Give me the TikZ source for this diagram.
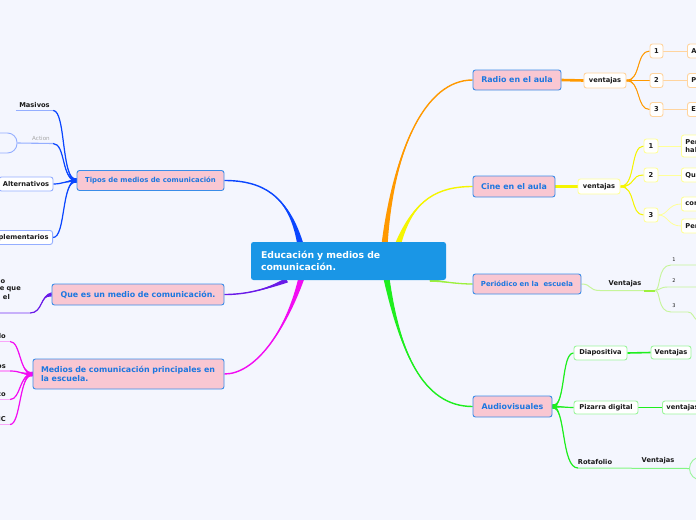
\documentclass[tikz,border=0pt]{standalone}
\usepackage{fontspec}
\setmainfont{DejaVu Sans}
\usetikzlibrary{calc,backgrounds}
\definecolor{bg}{HTML}{F4F6FE}
\definecolor{ctrblue}{HTML}{1A96E6}
\definecolor{pinkf}{HTML}{F9C7D2}
\definecolor{boxblue}{HTML}{3A8CE8}
\definecolor{tblue}{HTML}{1C77E0}
\definecolor{txt}{HTML}{1A1A1A}
\definecolor{brOr}{HTML}{FF9900}
\definecolor{orL}{HTML}{FFD49E}
\definecolor{brYe}{HTML}{F5F500}
\definecolor{yeL}{HTML}{FFFF99}
\definecolor{brLi}{HTML}{9CF03C}
\definecolor{liL}{HTML}{C6F59A}
\definecolor{brGr}{HTML}{1EEE1E}
\definecolor{grL}{HTML}{9CF59C}
\definecolor{brBl}{HTML}{0A46FF}
\definecolor{blL}{HTML}{94AEFF}
\definecolor{brPu}{HTML}{6A1AE8}
\definecolor{puL}{HTML}{C7B0FA}
\definecolor{brMa}{HTML}{F20CF2}
\definecolor{maL}{HTML}{F9A6F9}
% #1 colour, #2 start, #3 half width offset, #4 #5 controls, #6 end, #7 end width
\newcommand{\taperbranch}[7]{%
  \fill[#1] ($(#2)+#3$) .. controls #4 and #5 .. (#6) .. controls #5 and #4 .. ($(#2)-#3$) -- cycle;
  \draw[#1,line width=#7] (#2) .. controls #4 and #5 .. (#6);}
\begin{document}
\begin{tikzpicture}[x=1pt,y=-1pt,
  ctr/.style={fill=ctrblue, rounded corners=2.5pt, text=white, font=\bfseries\fontsize{9.3}{12.5}\selectfont, inner xsep=10pt, inner ysep=0pt, text width=175pt, align=left, minimum height=38pt},
  topic/.style={draw=boxblue, fill=pinkf, rounded corners=2.5pt, line width=0.9pt, text=tblue, font=\bfseries\fontsize{7.9}{9.5}\selectfont, inner sep=0pt, minimum height=20pt},
  smalltopic/.style={topic, font=\bfseries\fontsize{6.9}{8}\selectfont},
  sub/.style={draw=#1, fill=white, rounded corners=2.5pt, line width=0.9pt, font=\bfseries\fontsize{6.7}{8}\selectfont, text=txt, inner sep=0pt, minimum height=14pt},
  leaf/.style={sub=#1, anchor=west, text width=26pt, align=left, inner xsep=4pt},
  lbl/.style={font=\bfseries\fontsize{6.7}{7.7}\selectfont, text=txt, inner sep=0pt},
  num/.style={font=\fontsize{5}{6}\selectfont, text=txt, inner sep=0pt}]
\useasboundingbox (0,0) rectangle (696,520);

% ---------- centre
\node[ctr, minimum width=195pt] (c) at (348.5,261) {Educación y medios de\\comunicación.};

% ---------- right: radio
\node[topic, minimum width=88pt] (radio) at (517,80) {Radio en el aula};
\node[sub=orL, minimum width=42pt, minimum height=15pt] (rv) at (605,80.5) {ventajas};
\node[sub=orL, minimum width=13pt] (r1) at (656.5,51) {1};
\node[sub=orL, minimum width=13pt] (r2) at (656.5,80.5) {2};
\node[sub=orL, minimum width=13pt] (r3) at (656.5,109.5) {3};
\node[leaf=orL] (ra) at (687,51) {A};
\node[leaf=orL] (rp) at (687,80.5) {P};
\node[leaf=orL] (re) at (687,109.5) {E};

% ---------- right: cine
\node[topic, minimum width=82pt, minimum height=21pt] (cine) at (514,186.5) {Cine en el aula};
\node[sub=yeL, minimum width=42pt, minimum height=15pt] (cv) at (599,186.5) {ventajas};
\node[sub=yeL, minimum width=14pt] (c1) at (651,146) {1};
\node[sub=yeL, minimum width=14pt] (c2) at (651,175) {2};
\node[sub=yeL, minimum width=14pt] (c3) at (651,215) {3};
\node[leaf=yeL, minimum height=22pt] (cp) at (681,146) {Per\\hal};
\node[leaf=yeL] (cq) at (681,175) {Qu};
\node[leaf=yeL] (cc) at (681,204) {cor};
\node[leaf=yeL] (cpe) at (681,226) {Per};

% ---------- right: periodico
\node[smalltopic, minimum width=108pt] (per) at (527,284) {Periódico en la\ \ escuela};
\node[lbl] (pv) at (625,284) {Ventajas};
\coordinate (pvL) at (600,290.5);
\coordinate (pvR) at (655,290.5);
\node[num] (pn1) at (674,260) {1};
\node[num] (pn2) at (674,281) {2};
\node[num] (pn3) at (674,306) {3};
\coordinate (p1a) at (671,265); \coordinate (p1e) at (700,265);
\coordinate (p2a) at (668,287); \coordinate (p2e) at (700,287);
\coordinate (p3a) at (671,312); \coordinate (p3b) at (688,312); \coordinate (p3e) at (698,321);

% ---------- right: audiovisuales
\node[topic, minimum width=79pt, minimum height=21pt] (av) at (512.5,406.5) {Audiovisuales};
\node[sub=grL, minimum width=53pt] (dia) at (600.5,353) {Diapositiva};
\node[sub=grL, minimum width=40pt, minimum height=13pt] (dv) at (671,352.5) {Ventajas};
\node[sub=grL, minimum width=64pt, minimum height=13pt] (piz) at (606,407.5) {Pizarra digital};
\node[sub=grL, anchor=west, text width=40pt, align=left, inner xsep=4pt, minimum height=13pt] (pzv) at (662,407.5) {ventajas};
\node[lbl] (rot) at (595,461.5) {Rotafolio};
\coordinate (rotL) at (578,468);
\node[lbl] (rtv) at (658,460.5) {Ventajas};
\node[draw=grL, line width=0.9pt, rounded corners=11.5pt, minimum width=40pt, minimum height=23pt, anchor=west, inner sep=0pt] (rc) at (689,468.5) {};

% ---------- left: tipos
\node[smalltopic, minimum width=147pt] (tipos) at (150.5,180.5) {Tipos de medios de comunicación};
\node[lbl, minimum width=37pt, anchor=south, inner ysep=3pt] (mas) at (34.5,110.5) {Masivos};
\node[font=\fontsize{5.6}{6.5}\selectfont, text=black!35, inner sep=0pt] (act) at (41,138) {Action};
\coordinate (actR) at (53,143.5);
\node[draw=blL, line width=0.9pt, rounded corners=9.5pt, minimum width=40pt, minimum height=20pt, inner sep=0pt] (actb) at (-3,143) {};
\node[sub=blL, minimum width=54pt] (alt) at (26,184) {Alternativos};
\node[sub=blL, anchor=east, text width=60pt, align=right, inner xsep=4pt] (comp) at (53,237.5) {plementarios};

% ---------- left: que es
\node[topic, minimum width=172pt, minimum height=21pt] (que) at (138,294.5) {Que es un medio de comunicación.};
\node[lbl, anchor=east] (quet1) at (5.5,282) {o};
\node[lbl, anchor=east] (quet2) at (21,289.5) {e que};
\node[lbl, anchor=east] (quet3) at (10,297) {el};
\coordinate (qL) at (30,313); \coordinate (qE) at (-5,313);

% ---------- left: medios
\node[topic, minimum height=30pt, text width=175pt, align=left, inner xsep=8pt] (med) at (128.5,374) {Medios de comunicación principales en\\la escuela.};
\node[lbl, anchor=south east] (m1) at (6,339) {lo};
\node[lbl, anchor=south east] (m2) at (6,368.5) {os};
\node[lbl, anchor=south east] (m3) at (6,397) {co};
\node[lbl, anchor=south east] (m4) at (6,422) {IC};
\coordinate (m1a) at (10,341.5); \coordinate (m1b) at (-5,341.5);
\coordinate (m2a) at (10,371); \coordinate (m2b) at (-5,371);
\coordinate (m3a) at (10,399.5); \coordinate (m3b) at (-5,399.5);
\coordinate (m4a) at (10,424.5); \coordinate (m4b) at (-5,424.5);

% ---------- start points on the centre box
\coordinate (oS) at ($(c.north west)+(134,0)$);
\coordinate (yS) at ($(c.north west)+(148,0)$);
\coordinate (bS) at ($(c.north west)+(49,0)$);
\coordinate (gS) at ($(c.south west)+(136,0)$);
\coordinate (lS) at ($(c.south west)+(179,0)$);
\coordinate (pS) at ($(c.south west)+(36,0)$);
\coordinate (mS) at ($(c.south west)+(50,0)$);

\begin{pgfonlayer}{background}
\fill[bg] (0,0) rectangle (696,520);
% centre branches
\taperbranch{brOr}{oS}{(3,0)}{(394,150)}{(425,80)}{radio.west}{1.4pt}
\taperbranch{brYe}{yS}{(3,0)}{(414,200)}{(437,186.5)}{cine.west}{1.4pt}
\taperbranch{brLi}{lS}{(0,1.6)}{(447,282)}{(458,284)}{per.west}{1.3pt}
\taperbranch{brGr}{gS}{(3,0)}{(400,350)}{(422,406.5)}{av.west}{1.4pt}
\taperbranch{brBl}{bS}{(3,0)}{(288,195)}{(262,180.5)}{tipos.east}{1.4pt}
\taperbranch{brPu}{pS}{(1.2,2.2)}{(265,290)}{(245,294.5)}{que.east}{1.4pt}
\taperbranch{brMa}{mS}{(3,0)}{(285,332)}{(255,374)}{med.east}{1.4pt}

% radio
\draw[brOr, line width=2.6pt] (radio.east) -- (rv.west);
\taperbranch{brOr}{rv.east}{(0,1)}{(641,80.5)}{(636,51)}{r1.west}{1pt}
\draw[brOr, line width=1.8pt] (rv.east) -- (r2.west);
\taperbranch{brOr}{rv.east}{(0,1)}{(641,80.5)}{(636,109.5)}{r3.west}{1pt}
\draw[orL, line width=0.8pt] (r1.east) -- (ra.west);
\draw[orL, line width=0.8pt] (r2.east) -- (rp.west);
\draw[orL, line width=0.8pt] (r3.east) -- (re.west);

% cine
\draw[brYe, line width=2.6pt] (cine.east) -- (cv.west);
\taperbranch{brYe}{cv.east}{(0,1)}{(636,186.5)}{(630,146)}{c1.west}{1pt}
\taperbranch{brYe}{cv.east}{(0,1)}{(636,186.5)}{(630,175)}{c2.west}{1pt}
\taperbranch{brYe}{cv.east}{(0,1)}{(636,186.5)}{(630,215)}{c3.west}{1pt}
\draw[yeL, line width=0.8pt] (c1.east) -- (cp.west);
\draw[yeL, line width=0.8pt] (c2.east) -- (cq.west);
\draw[yeL, line width=0.8pt] (c3.east) .. controls (668,215) and (668,204) .. (cc.west);
\draw[yeL, line width=0.8pt] (c3.east) .. controls (668,215) and (668,226) .. (cpe.west);

% periodico
\draw[liL, line width=1pt] (per.east) .. controls (592,284) and (588,290.5) .. (pvL) -- (pvR);
\draw[brLi, line width=2pt] ($(pvR)+(-11,0)$) -- (pvR);
\draw[liL, line width=0.9pt] (pvR) .. controls (661,290.5) and (657,265) .. (p1a) -- (p1e);
\draw[liL, line width=0.9pt] (pvR) .. controls (660,290) and (660,287) .. (p2a) -- (p2e);
\draw[liL, line width=0.9pt] (pvR) .. controls (661,290.5) and (657,312) .. (p3a) -- (p3b) .. controls (693,312) and (693,318) .. (p3e);

% audiovisuales
\taperbranch{brGr}{av.east}{(0,2.2)}{(566,406.5)}{(561,353)}{dia.west}{1.2pt}
\taperbranch{brGr}{av.east}{(0,2.2)}{(560,406.5)}{(566,407.5)}{piz.west}{1.2pt}
\taperbranch{brGr}{av.east}{(0,2.2)}{(566,406.5)}{(561,468)}{rotL}{1.2pt}
\draw[brGr, line width=1.6pt] (dia.east) -- (dv.west);
\draw[brGr, line width=1.6pt] (piz.east) -- (pzv.west);
\draw[brGr!55, line width=1pt] (rotL) -- (rc.west);

% tipos
\taperbranch{brBl}{tipos.west}{(0,2.2)}{(61,180.5)}{(66,110.5)}{mas.south east}{1.2pt}
\taperbranch{brBl}{tipos.west}{(0,2.2)}{(61,180.5)}{(66,143.5)}{actR}{1.2pt}
\taperbranch{brBl}{tipos.west}{(0,2.2)}{(66,181)}{(62,184)}{alt.east}{1.2pt}
\taperbranch{brBl}{tipos.west}{(0,2.2)}{(61,180.5)}{(66,237.5)}{comp.east}{1.2pt}
\draw[blL, line width=1.1pt] (mas.south west) -- (mas.south east);
\draw[blL, line width=1.1pt] (actb.east) -- (actR);

% que es
\taperbranch{brPu}{que.west}{(0,2.2)}{(40,294.5)}{(43,313)}{qL}{1.2pt}
\draw[puL, line width=1.2pt] (qL) -- (qE);

% medios
\taperbranch{brMa}{med.west}{(0,2.2)}{(19,374)}{(21,341.5)}{m1a}{1.2pt}
\taperbranch{brMa}{med.west}{(0,2.2)}{(19,374)}{(21,371)}{m2a}{1.2pt}
\taperbranch{brMa}{med.west}{(0,2.2)}{(19,374)}{(21,399.5)}{m3a}{1.2pt}
\taperbranch{brMa}{med.west}{(0,2.2)}{(19,374)}{(21,424.5)}{m4a}{1.2pt}
\draw[maL, line width=1.2pt] (m1a) -- (m1b);
\draw[maL, line width=1.2pt] (m2a) -- (m2b);
\draw[maL, line width=1.2pt] (m3a) -- (m3b);
\draw[maL, line width=1.2pt] (m4a) -- (m4b);
\end{pgfonlayer}
\end{tikzpicture}
\end{document}
